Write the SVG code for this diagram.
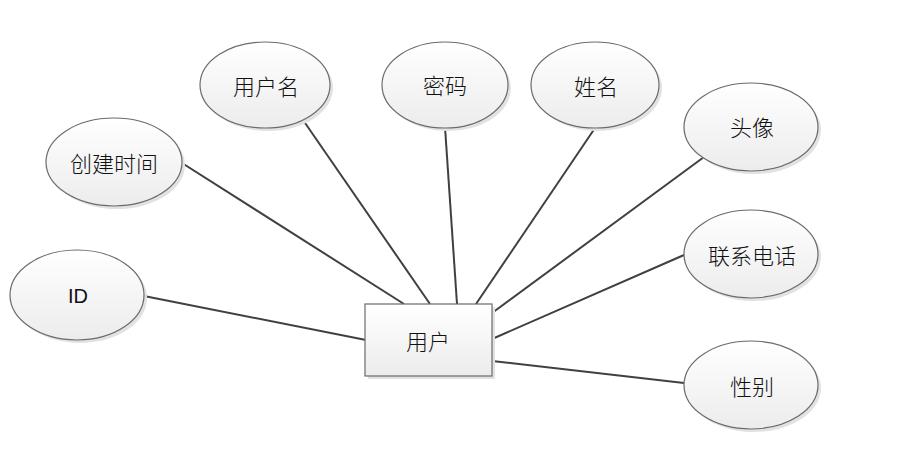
<svg xmlns="http://www.w3.org/2000/svg" width="914" height="464" viewBox="0 0 914 464">
<style>
.n ellipse,.n rect{fill:url(#g);stroke:#6b6b6b;stroke-width:1.2}
.n .sh{fill:#e2e2e2;stroke:none}
text{font-family:"Noto Sans CJK SC","Liberation Sans",sans-serif;font-size:22px;font-weight:300;fill:#111;text-anchor:middle;dominant-baseline:central}
#edges line{stroke:#404040;stroke-width:2}
</style>
<defs>
<linearGradient id="g" x1="0" y1="0" x2="0" y2="1"><stop offset="0" stop-color="#ffffff"/><stop offset="1" stop-color="#ececec"/></linearGradient>
</defs>
<rect width="914" height="464" fill="#fff"/>
<g id="edges">
<line x1="144" y1="296" x2="366" y2="340"/>
<line x1="182" y1="163" x2="404" y2="304"/>
<line x1="303" y1="120" x2="430" y2="304"/>
<line x1="445" y1="127" x2="457" y2="304"/>
<line x1="595" y1="128" x2="476" y2="304"/>
<line x1="704" y1="157" x2="492" y2="313"/>
<line x1="684" y1="255" x2="492" y2="339"/>
<line x1="684" y1="383" x2="492" y2="361"/>
</g>
<g id="user" class="n"><rect class="sh" x="368" y="307" width="127" height="72"/><rect x="365" y="304" width="127" height="72"/><text x="428" y="340">用户</text></g>
<g id="id" class="n"><ellipse class="sh" cx="80" cy="298" rx="67" ry="45"/><ellipse cx="77" cy="295" rx="67" ry="45"/><text x="78" y="296" style="font-family:'Liberation Sans',sans-serif;font-weight:400;font-size:20px">ID</text></g>
<g id="ctime" class="n"><ellipse class="sh" cx="117" cy="165" rx="68" ry="44"/><ellipse cx="114" cy="162" rx="68" ry="44"/><text x="114" y="162">创建时间</text></g>
<g id="uname" class="n"><ellipse class="sh" cx="268" cy="88" rx="65" ry="43"/><ellipse cx="265" cy="85" rx="65" ry="43"/><text x="266" y="85">用户名</text></g>
<g id="pwd" class="n"><ellipse class="sh" cx="448" cy="88" rx="63" ry="43"/><ellipse cx="445" cy="85" rx="63" ry="43"/><text x="445" y="84">密码</text></g>
<g id="name" class="n"><ellipse class="sh" cx="598" cy="88" rx="64" ry="43"/><ellipse cx="595" cy="85" rx="64" ry="43"/><text x="596" y="85">姓名</text></g>
<g id="avatar" class="n"><ellipse class="sh" cx="754" cy="130" rx="67" ry="44"/><ellipse cx="751" cy="127" rx="67" ry="44"/><text x="752" y="126">头像</text></g>
<g id="phone" class="n"><ellipse class="sh" cx="754" cy="257" rx="67" ry="44"/><ellipse cx="751" cy="254" rx="67" ry="44"/><text x="752" y="254">联系电话</text></g>
<g id="gender" class="n"><ellipse class="sh" cx="754" cy="388" rx="67" ry="44"/><ellipse cx="751" cy="385" rx="67" ry="44"/><text x="752" y="385">性别</text></g>
</svg>
